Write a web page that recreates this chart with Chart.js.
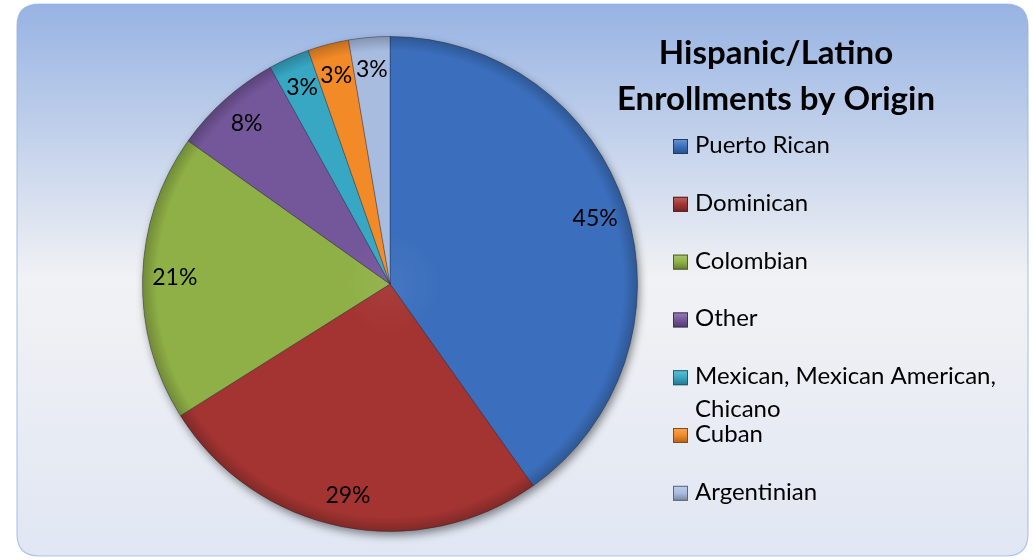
<!DOCTYPE html>
<html><head><meta charset="utf-8">
<script src="https://cdn.jsdelivr.net/npm/chart.js@4"></script>
<style>html,body{margin:0;padding:0;background:#fff;overflow:hidden}canvas{display:block}</style>
</head><body>
<canvas id="c" width="1033" height="560"></canvas>
<script>
const categories = ["Puerto Rican","Dominican","Colombian","Other","Mexican, Mexican American, Chicano","Cuban","Argentinian"];
const values = [45,29,21,8,3,3,3];
const valueLabels = ["45%","29%","21%","8%","3%","3%","3%"];
const titleLines = ["Hispanic/Latino","Enrollments by Origin"];
const colors = ["#3b6fbd","#a33432","#8fb046","#74569a","#37a7c3","#f28a28","#a8bce0"];

function shade(hex, f){
  const n = parseInt(hex.slice(1),16);
  let r=(n>>16)&255,g=(n>>8)&255,b=n&255;
  if(f>=0){ r=r+(255-r)*f; g=g+(255-g)*f; b=b+(255-b)*f; }
  else { r=r*(1+f); g=g*(1+f); b=b*(1+f); }
  return `rgb(${Math.round(r)},${Math.round(g)},${Math.round(b)})`;
}

const bgPlugin = {
  id:'bg',
  beforeDraw(chart){
    const ctx = chart.ctx;
    ctx.save();
    ctx.fillStyle = '#ffffff';
    ctx.fillRect(0,0,chart.width,chart.height);
    const x=17,y=4,w=1011,h=552,r=22;
    const g = ctx.createLinearGradient(0,y,0,y+h);
    g.addColorStop(0,'#97b3e3');
    g.addColorStop(0.5,'#f1f2f4');
    g.addColorStop(1,'#e0e6f3');
    ctx.beginPath();
    ctx.moveTo(x+r,y); ctx.lineTo(x+w-r,y); ctx.quadraticCurveTo(x+w,y,x+w,y+r);
    ctx.lineTo(x+w,y+h-r); ctx.quadraticCurveTo(x+w,y+h,x+w-r,y+h);
    ctx.lineTo(x+r,y+h); ctx.quadraticCurveTo(x,y+h,x,y+h-r);
    ctx.lineTo(x,y+r); ctx.quadraticCurveTo(x,y,x+r,y); ctx.closePath();
    ctx.fillStyle = g; ctx.fill();
    ctx.strokeStyle = 'rgba(150,178,222,0.7)'; ctx.lineWidth = 1.2; ctx.stroke();
    ctx.restore();
  },
  beforeDatasetsDraw(chart){
    const arc = chart.getDatasetMeta(0).data[0];
    if(!arc) return;
    const ctx = chart.ctx;
    ctx.save();
    ctx.shadowColor='rgba(0,0,0,0.45)'; ctx.shadowBlur=9; ctx.shadowOffsetX=2; ctx.shadowOffsetY=4;
    ctx.beginPath(); ctx.arc(arc.x,arc.y,arc.outerRadius,0,Math.PI*2);
    ctx.fillStyle='#777'; ctx.fill();
    ctx.restore();
  },
  afterDatasetsDraw(chart){
    const ctx = chart.ctx;
    const meta = chart.getDatasetMeta(0);
    ctx.save();
    ctx.fillStyle='#000';
    ctx.font='23px Lato, "Open Sans", sans-serif';
    ctx.textAlign='center'; ctx.textBaseline='middle';
    meta.data.forEach((arc,i)=>{
      const p = arc.getProps(['x','y','startAngle','endAngle','outerRadius'],true);
      const mid=(p.startAngle+p.endAngle)/2;
      const rr = p.outerRadius*0.87;
      ctx.fillText(valueLabels[i], p.x+Math.cos(mid)*rr, p.y+Math.sin(mid)*rr);
    });
    // title
    ctx.font='bold 33px Lato, "Open Sans", sans-serif';
    ctx.textBaseline='alphabetic';
    titleLines.forEach((t,i)=>ctx.fillText(t, 776, 64+i*46));
    // legend
    ctx.textAlign='left';
    ctx.font='24px Lato, "Open Sans", sans-serif';
    const maxW = 330;
    categories.forEach((c,i)=>{
      const base = 153 + i*57.8;
      const bx=673, by=base-14, bs=15;
      const lg = ctx.createLinearGradient(0,by,0,by+bs);
      lg.addColorStop(0,shade(colors[i],0.25)); lg.addColorStop(0.5,colors[i]); lg.addColorStop(1,shade(colors[i],-0.3));
      ctx.fillStyle=lg; ctx.fillRect(bx,by,bs,bs);
      ctx.strokeStyle=shade(colors[i],-0.45); ctx.lineWidth=1; ctx.strokeRect(bx+0.5,by+0.5,bs-1,bs-1);
      ctx.fillStyle='#000';
      const words=c.split(' '); let line=''; let ly=base;
      words.forEach(wd=>{
        const test = line? line+' '+wd : wd;
        if(ctx.measureText(test).width>maxW && line){ ctx.fillText(line,695,ly); line=wd; ly+=33; }
        else line=test;
      });
      ctx.fillText(line,695,ly);
    });
    ctx.restore();
  }
};

new Chart(document.getElementById('c'),{
  type:'pie',
  data:{ labels:categories, datasets:[{
    data:values,
    backgroundColor: (ctx)=>{
      const chart=ctx.chart, a=chart.chartArea, base=colors[ctx.dataIndex];
      if(!a) return base;
      const cx=(a.left+a.right)/2, cy=(a.top+a.bottom)/2, r=Math.min(a.right-a.left,a.bottom-a.top)/2;
      const g=chart.ctx.createRadialGradient(cx,cy,0,cx,cy,r);
      g.addColorStop(0,shade(base,0.05));
      g.addColorStop(0.2,base);
      g.addColorStop(0.94,base);
      g.addColorStop(1,shade(base,-0.22));
      return g;
    },
    borderColor:'rgba(30,30,50,0.35)',
    borderWidth:1
  }]},
  options:{
    responsive:false, animation:false,
    layout:{padding:{left:142,right:395,top:36,bottom:28}},
    plugins:{legend:{display:false},tooltip:{enabled:false},title:{display:false}}
  },
  plugins:[bgPlugin]
});
</script>
</body></html>
